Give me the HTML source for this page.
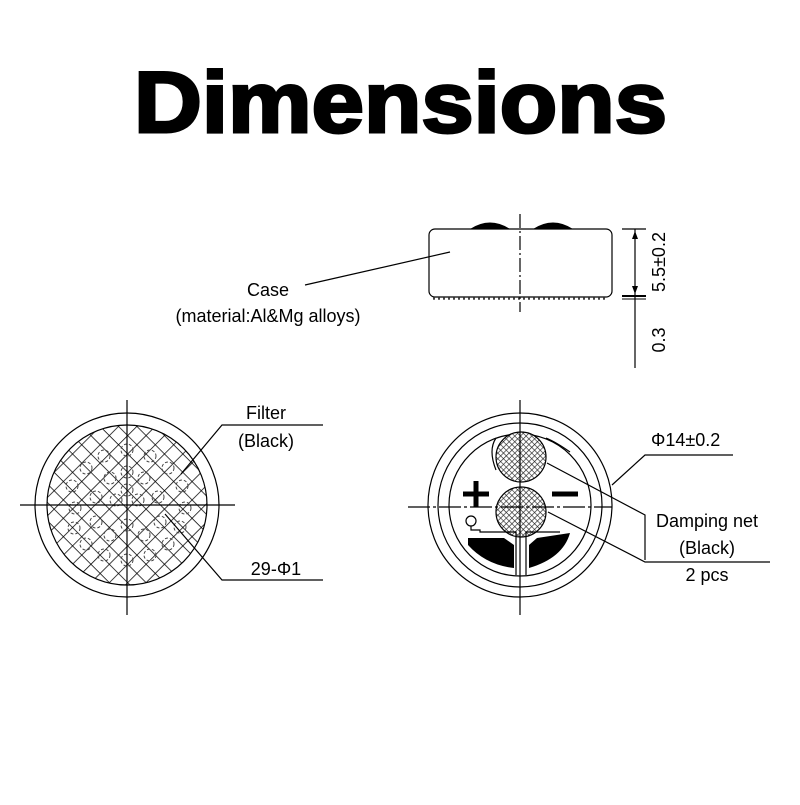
<!DOCTYPE html>
<html><head><meta charset="utf-8"><style>html,body{margin:0;padding:0;background:#fff}</style></head>
<body>
<svg width="800" height="800" viewBox="0 0 800 800" xmlns="http://www.w3.org/2000/svg" font-family="Liberation Sans, sans-serif">
<rect width="800" height="800" fill="#fff"/>
<text x="134" y="132" font-size="86" font-weight="bold" textLength="533" lengthAdjust="spacingAndGlyphs" stroke="#000" stroke-width="3" fill="#000">Dimensions</text>

<!-- side view -->
<g stroke="#000" fill="none" stroke-width="1.2">
<path d="M470,229 Q490,216 510,229 Z M533,229 Q553,216 573,229 Z" fill="#000" stroke="none"/>
<rect x="429" y="229" width="183" height="68" rx="6"/>
<line x1="433" y1="298.5" x2="608" y2="298.5" stroke-width="2.5" stroke-dasharray="2,3" stroke="#444"/>
<line x1="520" y1="214" x2="520" y2="312" stroke-dasharray="14,3,2,3"/>
<line x1="305" y1="285" x2="450" y2="252"/>
<line x1="635" y1="229" x2="635" y2="368"/>
<line x1="622" y1="229" x2="646" y2="229"/>
<line x1="622" y1="296" x2="646" y2="296" stroke-width="2"/>
<line x1="622" y1="299" x2="646" y2="299" stroke-width="1"/>
</g>
<path d="M635,231 l-3,8 h6 z M635,294 l-3,-8 h6 z" fill="#000"/>
<text x="268" y="296" font-size="18" text-anchor="middle">Case</text>
<text x="268" y="322" font-size="18" text-anchor="middle">(material:Al&amp;Mg alloys)</text>
<text transform="translate(665,262) rotate(-90)" font-size="18" text-anchor="middle">5.5±0.2</text>
<text transform="translate(665,340) rotate(-90)" font-size="18" text-anchor="middle">0.3</text>

<!-- left view -->
<defs>
<pattern id="hatch" width="13" height="13" patternUnits="userSpaceOnUse" patternTransform="rotate(45 127 505)">
<path d="M0,0 H13 M0,0 V13" stroke="#000" stroke-width="1.5" fill="none"/>
</pattern>
<pattern id="fine" width="4" height="4" patternUnits="userSpaceOnUse" patternTransform="rotate(45)">
<rect width="4" height="4" fill="#fff"/>
<path d="M0,0 H4 M0,0 V4" stroke="#222" stroke-width="1.3"/>
</pattern>
</defs>
<g stroke="#000" fill="none" stroke-width="1.2">
<circle cx="127" cy="505" r="92"/>
<circle cx="127" cy="505" r="80"/>
<circle cx="127" cy="505" r="80" fill="url(#hatch)" stroke="none"/>
<g stroke-dasharray="3,2" stroke-width="1" stroke="#444">
<circle cx="127" cy="450" r="6"/><circle cx="104" cy="456" r="6"/><circle cx="150" cy="456" r="6"/>
<circle cx="86" cy="468" r="6"/><circle cx="168" cy="468" r="6"/><circle cx="110" cy="478" r="6"/><circle cx="144" cy="478" r="6"/><circle cx="127" cy="472" r="6"/>
<circle cx="182" cy="486" r="6"/><circle cx="72" cy="486" r="6"/><circle cx="96" cy="497" r="6"/><circle cx="116" cy="500" r="6"/><circle cx="138" cy="500" r="6"/><circle cx="158" cy="497" r="6"/>
<circle cx="75" cy="508" r="6"/><circle cx="185" cy="508" r="6"/><circle cx="160" cy="522" r="6"/><circle cx="96" cy="522" r="6"/><circle cx="127" cy="525" r="6"/>
<circle cx="110" cy="535" r="6"/><circle cx="144" cy="535" r="6"/><circle cx="86" cy="544" r="6"/><circle cx="168" cy="544" r="6"/><circle cx="104" cy="555" r="6"/><circle cx="150" cy="555" r="6"/><circle cx="127" cy="560" r="6"/><circle cx="180" cy="527" r="6"/><circle cx="74" cy="528" r="6"/><circle cx="127" cy="490" r="6"/>
</g>
<line x1="127" y1="400" x2="127" y2="615"/>
<line x1="20" y1="505" x2="235" y2="505"/>
<polyline points="181,474 222,425 323,425"/>
<polyline points="165,514 222,580 323,580"/>
</g>
<text x="266" y="419" font-size="18" text-anchor="middle">Filter</text>
<text x="266" y="447" font-size="18" text-anchor="middle">(Black)</text>
<text x="276" y="575" font-size="18" text-anchor="middle">29-Φ1</text>

<!-- right view -->
<g stroke="#000" fill="none" stroke-width="1.2">
<circle cx="520" cy="505" r="92"/>
<circle cx="520" cy="505" r="82"/>
<circle cx="520" cy="505" r="71"/>
<path d="M496,438 Q488,450 496,470 M546,438 Q556,442 570,452"/>
<circle cx="521" cy="457" r="25" fill="url(#fine)"/>
<circle cx="521" cy="512" r="25" fill="url(#fine)"/>
<line x1="520" y1="400" x2="520" y2="615"/>
<line x1="408" y1="507" x2="612" y2="507" stroke-dasharray="22,3,3,3"/>
<polyline points="547,463 645,515 645,560"/>
<polyline points="548,512 645,562 770,562"/>
<polyline points="612,485 645,455 733,455"/>
<circle cx="471" cy="521" r="5"/>
<path d="M471,526 L471,530 L480,530 L480,532 L516,532 L516,575 M526,575 L526,532 L560,532"/>
</g>
<path d="M468,538 L504,538 L514,545 L514,568 Q486,565 468,545 Z" fill="#000"/>
<path d="M529,545 L537,538 L570,533 Q563,558 529,568 Z" fill="#000"/>
<path d="M463,494 h26 M476,481 v26" stroke="#000" stroke-width="5"/>
<path d="M552,494 h26" stroke="#000" stroke-width="5"/>
<text x="651" y="446" font-size="18">Φ14±0.2</text>
<text x="707" y="527" font-size="18" text-anchor="middle">Damping net</text>
<text x="707" y="554" font-size="18" text-anchor="middle">(Black)</text>
<text x="707" y="581" font-size="18" text-anchor="middle">2 pcs</text>
</svg>
</body></html>
